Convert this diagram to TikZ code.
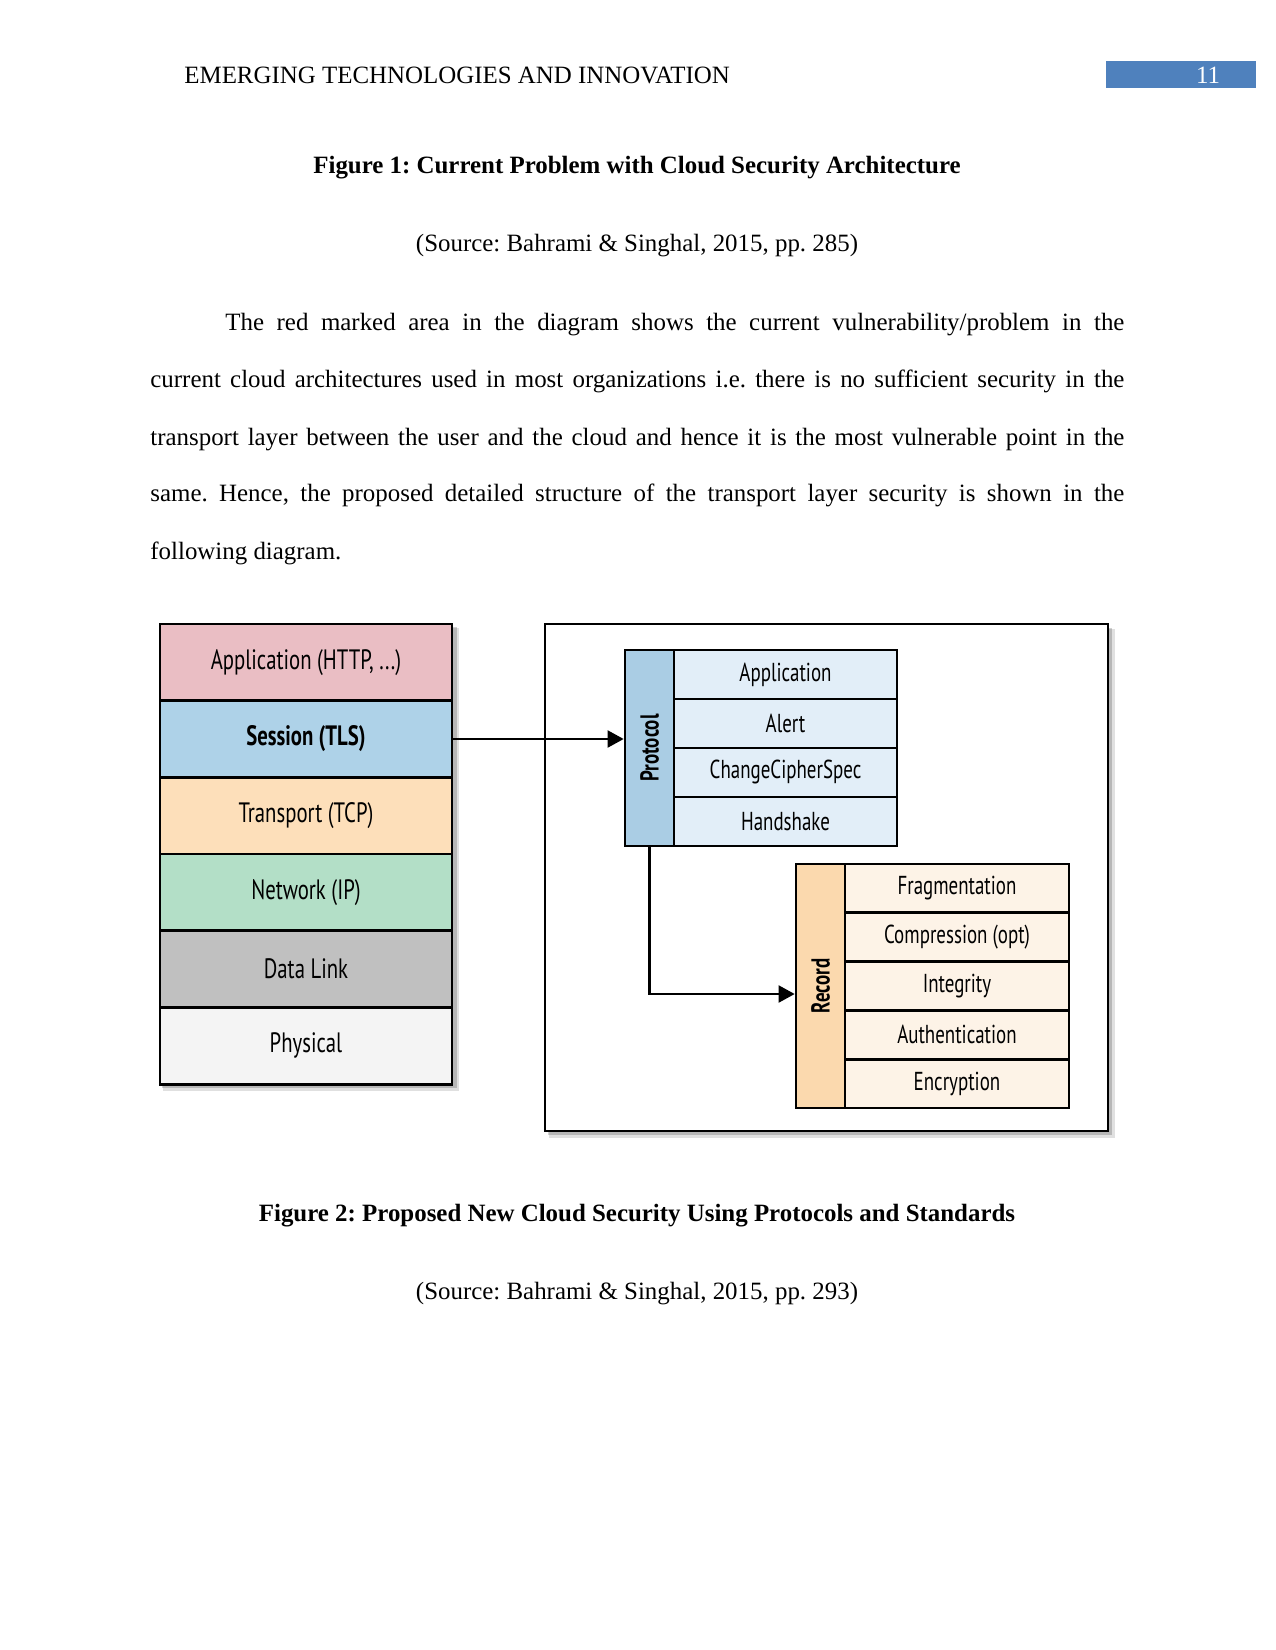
\documentclass[tikz,border=0pt]{standalone}
\usepackage{fontspec}
\setmainfont{Liberation Serif}
\newfontfamily\diagfont[FakeStretch=0.74]{PT Sans}
\newfontfamily\diagfontr[FakeStretch=0.73]{PT Sans}
\usetikzlibrary{arrows.meta,shadows}
\definecolor{pagenum}{RGB}{79,129,189}
\definecolor{appc}{RGB}{234,190,196}
\definecolor{sesc}{RGB}{174,210,232}
\definecolor{trac}{RGB}{253,223,186}
\definecolor{netc}{RGB}{179,223,199}
\definecolor{dlc}{RGB}{192,192,192}
\definecolor{phyc}{RGB}{244,244,244}
\definecolor{plab}{RGB}{170,205,228}
\definecolor{prow}{RGB}{226,238,248}
\definecolor{rlab}{RGB}{251,217,174}
\definecolor{rrow}{RGB}{253,243,231}
\newcommand{\pxu}{0.48bp}
\tikzset{
  bodytext/.style={font=\fontsize{12pt}{14pt}\selectfont, inner sep=0pt},
  captext/.style={font=\fontsize{12pt}{14pt}\selectfont\bfseries, inner sep=0pt},
  layerbox/.style={draw, line width=1.4bp, inner sep=0pt, minimum width=292*\pxu, minimum height=76.7*\pxu,
     font=\diagfont\fontsize{13.5pt}{15pt}\selectfont},
  rowbox/.style={draw, line width=1.3bp, inner sep=0pt, minimum width=223*\pxu, minimum height=48.9*\pxu,
     font=\diagfontr\fontsize{12.5pt}{14pt}\selectfont},
  labbox/.style={draw, line width=1.3bp, inner sep=0pt, rotate=90, minimum height=49*\pxu,
     font=\diagfontr\fontsize{12.5pt}{14pt}\selectfont\bfseries},
  conn/.style={line width=1bp, -{Triangle[length=16*\pxu, width=17*\pxu]}},
}
\begin{document}
\frenchspacing
\begin{tikzpicture}[x=0.48bp, y=-0.48bp]
\useasboundingbox (0,0) rectangle (1275,1650);
\fill[white] (0,0) rectangle (1275,1650);
% header
\node[bodytext, anchor=base west] (hdr) at (184,83) {EMERGING TECHNOLOGIES AND INNOVATION};
\node[fill=pagenum, minimum width=150*\pxu, minimum height=27*\pxu, inner sep=0pt] (pnbox) at (1181,74.5) {};
\node[bodytext, text=white, anchor=base] (pn) at (1208,83) {11};
% caption 1
\node[captext, anchor=base] (cap1) at (637,173) {Figure 1: Current Problem with Cloud Security Architecture};
\node[bodytext, anchor=base] (src1) at (637,251) {(Source: Bahrami \& Singhal, 2015, pp. 285)};
% paragraph
\node[bodytext, anchor=base west] (l1) at (225,330) {\makebox[431.5bp][s]{The red marked area in the diagram shows the current vulnerability/problem in the}};
\node[bodytext, anchor=base west] (l2) at (150,387) {\makebox[467.5bp][s]{current cloud architectures used in most organizations i.e. there is no sufficient security in the}};
\node[bodytext, anchor=base west] (l3) at (150,445) {\makebox[467.5bp][s]{transport layer between the user and the cloud and hence it is the most vulnerable point in the}};
\node[bodytext, anchor=base west] (l4) at (150,501) {\makebox[467.5bp][s]{same. Hence, the proposed detailed structure of the transport layer security is shown in the}};
\node[bodytext, anchor=base west] (l5) at (150,559) {following diagram.};
% left stack shadow
\fill[black, opacity=0.12] (163,628) rectangle (459,1091);
\fill[black, opacity=0.18] (162,627) rectangle (457,1088);
% left stack
\node[layerbox, fill=appc] (app) at (306,662.3) {Application (HTTP, ...)};
\node[layerbox, fill=sesc, font=\diagfont\fontsize{13.5pt}{15pt}\selectfont\bfseries] (ses) at (306,739) {Session (TLS)};
\node[layerbox, fill=trac] (tra) at (306,815.7) {Transport (TCP)};
\node[layerbox, fill=netc] (net) at (306,892.3) {Network (IP)};
\node[layerbox, fill=dlc] (dl) at (306,969) {Data Link};
\node[layerbox, fill=phyc] (phy) at (306,1045.7) {Physical};
% big box
\fill[black, opacity=0.12] (549,629) rectangle (1115,1138);
\fill[black, opacity=0.18] (548,628) rectangle (1112,1135);
\node[draw, fill=white, line width=1.4bp, inner sep=0pt, minimum width=563*\pxu, minimum height=507*\pxu] (tls) at (826.5,877.5) {};
% protocol group
\node[labbox, fill=plab, minimum width=196*\pxu] (plabel) at (649.5,748) {Protocol};
\node[rowbox, fill=prow] (pa) at (785.5,674.5) {Application};
\node[rowbox, fill=prow] (pb) at (785.5,723.5) {Alert};
\node[rowbox, fill=prow] (pc) at (785.5,772.5) {ChangeCipherSpec};
\node[rowbox, fill=prow] (pd) at (785.5,821.5) {Handshake};
% record group
\node[labbox, fill=rlab, minimum width=244*\pxu] (rlabel) at (820.5,986) {Record};
\node[rowbox, fill=rrow, minimum width=224*\pxu, minimum height=48.8*\pxu] (ra) at (957,888.4) {Fragmentation};
\node[rowbox, fill=rrow, minimum width=224*\pxu, minimum height=48.8*\pxu] (rb) at (957,937.2) {Compression (opt)};
\node[rowbox, fill=rrow, minimum width=224*\pxu, minimum height=48.8*\pxu] (rc) at (957,986) {Integrity};
\node[rowbox, fill=rrow, minimum width=224*\pxu, minimum height=48.8*\pxu] (rd) at (957,1034.8) {Authentication};
\node[rowbox, fill=rrow, minimum width=224*\pxu, minimum height=48.8*\pxu] (re) at (957,1083.6) {Encryption};
% connectors
\draw[conn] (ses.east) -- (ses.east -| plabel.north);
\draw[conn] (plabel.west) |- ([yshift=-8*\pxu]rlabel.north);
% caption 2
\node[captext, anchor=base] (cap2) at (637,1221) {Figure 2: Proposed New Cloud Security Using Protocols and Standards};
\node[bodytext, anchor=base] (src2) at (637,1299) {(Source: Bahrami \& Singhal, 2015, pp. 293)};
\end{tikzpicture}
\end{document}
